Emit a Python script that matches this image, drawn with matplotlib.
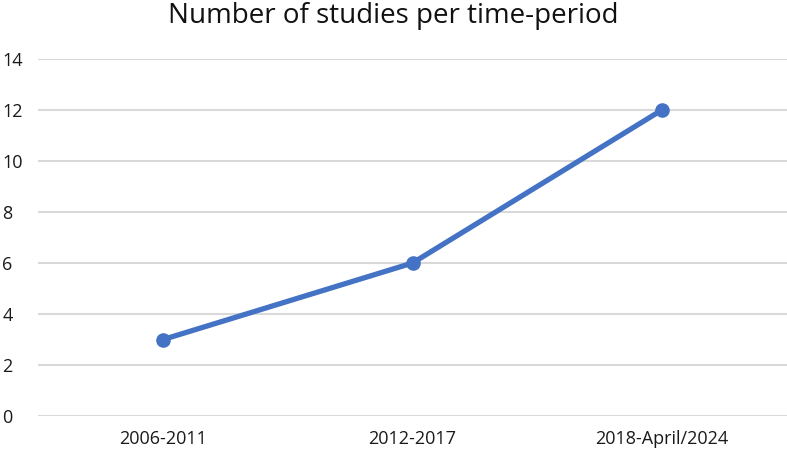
import matplotlib
matplotlib.use("Agg")
import matplotlib.pyplot as plt

categories = ["2006-2011", "2012-2017", "2018-April/2024"]
studies = [3, 6, 12]
yticks = [0, 2, 4, 6, 8, 10, 12, 14]

plt.rcParams['font.family'] = ['Open Sans', 'DejaVu Sans']

fig = plt.figure(figsize=(7.87, 4.54), dpi=100)
ax = fig.add_axes([0.0489, 0.0837, 0.9505, 0.7863])

x = list(range(len(categories)))
ax.plot(x, studies, color='#4472C4', linewidth=3.8, marker='o', markersize=9.5,
        solid_capstyle='round', zorder=3)

ax.set_xlim(-0.5, len(categories) - 0.5)
ax.set_ylim(0, 14)
ax.set_yticks(yticks)
ax.set_xticks(x)
ax.set_xticklabels(categories)
ax.grid(axis='y', color='#D9D9D9', linewidth=1.5)
ax.set_axisbelow(True)
for s in ax.spines.values():
    s.set_visible(False)
ax.tick_params(axis='both', length=0, labelsize=13, colors='#1a1a1a')
ax.tick_params(axis='x', pad=10)
ax.tick_params(axis='y', pad=26)
for lbl in ax.get_yticklabels():
    lbl.set_horizontalalignment('left')

fig.text(0.5, 0.995, "Number of studies per time-period", ha='center', va='top',
         fontsize=20, color='#111111')

fig.savefig("out.png", dpi=100)
